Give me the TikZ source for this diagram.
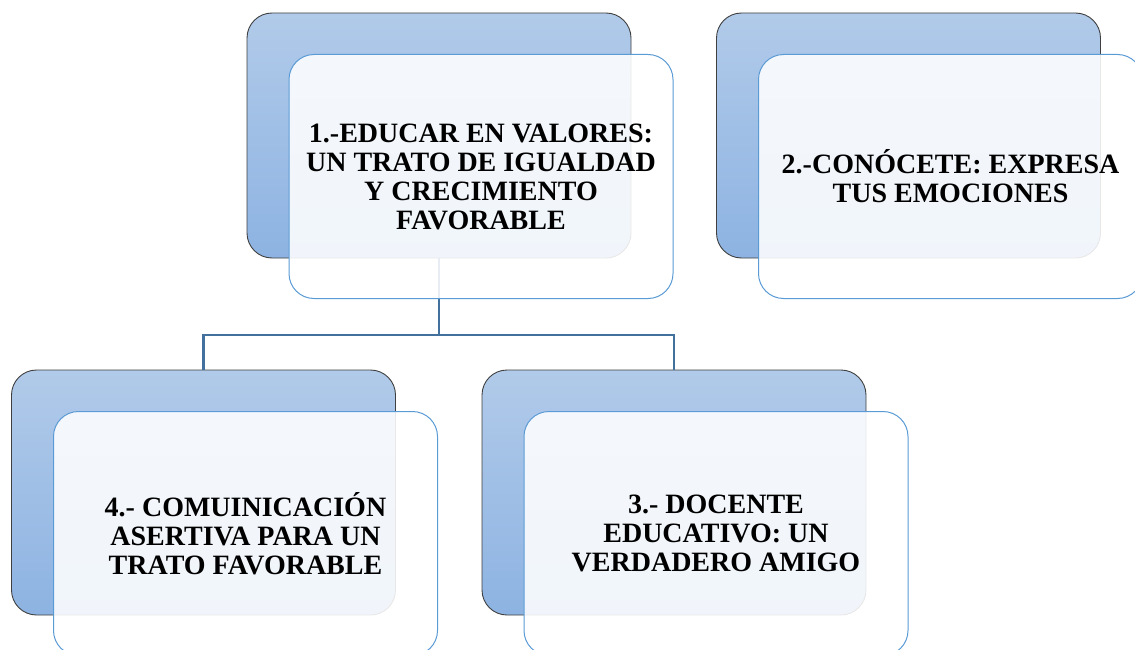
\documentclass[tikz,border=0pt]{standalone}
\usepackage{fontspec}
\setmainfont{Liberation Serif}
\usepackage{xcolor}
\definecolor{backtop}{HTML}{B1CAE9}
\definecolor{backbot}{HTML}{8DB3E2}
\definecolor{backline}{HTML}{3F3F3F}
\definecolor{frontline}{HTML}{5B9BD5}
\definecolor{linkblue}{HTML}{41719C}

\begin{document}
\begin{tikzpicture}[x=1pt, y=-1pt,
    backbox/.style={rectangle, rounded corners=25pt, draw=backline, line width=0.9pt,
        top color=backtop, bottom color=backbot, minimum width=384pt, minimum height=245pt,
        inner sep=0pt, outer sep=0pt},
    frontbox/.style={rectangle, rounded corners=25pt, draw=frontline, line width=1pt,
        fill=white, fill opacity=0.88, text opacity=1, minimum width=384pt, minimum height=244pt,
        inner sep=0pt, outer sep=0pt, align=center,
        font=\fontsize{28}{29}\selectfont\bfseries},
    link/.style={draw=linkblue, line width=2.4pt}]

    \useasboundingbox (0,0) rectangle (1135,650);

    % Back boxes
    \node (back1) [backbox] at (439,135.5) {};
    \node (back2) [backbox] at (908.5,135.5) {};
    \node (back4) [backbox] at (203.5,492.5) {};
    \node (back3) [backbox] at (674,492.5) {};

    % Connectors
    \coordinate (hub) at (439,335);
    \draw[link] (back1.south) -- (hub) -| (back4.north);
    \draw[link] (hub) -| (back3.north);

    % Front boxes with the texts
    \node (front1) [frontbox] at ([shift={(42,41)}]back1) {1.-EDUCAR EN VALORES:\\UN TRATO DE IGUALDAD\\Y CRECIMIENTO\\FAVORABLE};
    \node (front2) [frontbox] at ([shift={(42,41)}]back2) {2.-CONÓCETE: EXPRESA\\TUS EMOCIONES};
    \node (front4) [frontbox] at ([shift={(42,41)}]back4) {4.- COMUINICACIÓN\\ASERTIVA PARA UN\\TRATO FAVORABLE};
    \node (front3) [frontbox] at ([shift={(42,41)}]back3) {3.- DOCENTE\\EDUCATIVO: UN\\VERDADERO AMIGO};

\end{tikzpicture}
\end{document}
